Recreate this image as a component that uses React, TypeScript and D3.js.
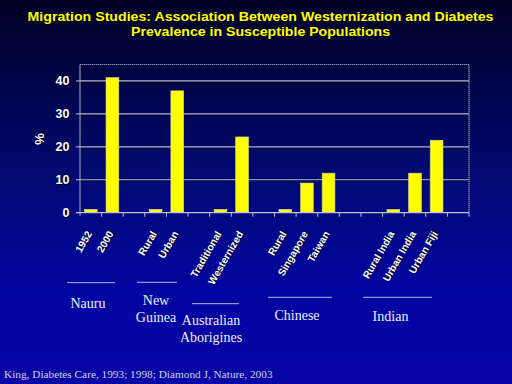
import React from "react";
import * as d3 from "d3";

const categories = ["1952", "2000", "", "Rural", "Urban", "", "Traditional", "Westernized", "", "Rural", "Singapore", "Taiwan", "", "", "Rural India", "Urban India", "Urban Fiji", ""];
const values: (number | null)[] = [1, 41, null, 1, 37, null, 1, 23, null, 1, 9, 12, null, null, 1, 12, 22, null];
const yTicks = [0, 10, 20, 30, 40];
const titleLines = ["Migration Studies: Association Between Westernization and Diabetes", "Prevalence in Susceptible Populations"];
const groupLabels = [["Nauru"], ["New", "Guinea"], ["Australian", "Aborigines"], ["Chinese"], ["Indian"]];
const footnote = "King, Diabetes Care, 1993; 1998; Diamond J, Nature, 2003";

const W = 512, H = 384;
const plot = { left: 80, right: 469, top: 64.5, bottom: 212.7 };
const titleWidths = [466, 259];

// layout for the group labels (line x1,x2,y ; text x, baseline y)
const groupLayout = [
  { x1: 67, x2: 115, ly: 282.7, tx: 88, ty: 307.5 },
  { x1: 137, x2: 177, ly: 282.3, tx: 156, ty: 305 },
  { x1: 192, x2: 239, ly: 303.7, tx: 211, ty: 325 },
  { x1: 268, x2: 332, ly: 297.3, tx: 297, ty: 320 },
  { x1: 363, x2: 432, ly: 297.3, tx: 390.5, ty: 321 },
];

export default function App() {
  const idx = categories.map((_, i) => String(i));
  const x = d3.scaleBand<string>().domain(idx).range([plot.left, plot.right]).paddingInner(0.41).paddingOuter(0.205);
  const y = d3.scaleLinear().domain([0, 45]).range([plot.bottom, plot.top]);
  const step = x.step();
  const sans = "'Liberation Sans', Arial, sans-serif";
  const serif = "'Liberation Serif', 'Times New Roman', serif";

  const shadowText = (key: string, props: any, text: string, fill: string, shadow = "#000010") => (
    <g key={key}>
      <text {...props} x={props.x + 1} y={props.y + 1} fill={shadow}>{text}</text>
      <text {...props} fill={fill}>{text}</text>
    </g>
  );

  return (
    <svg width={W} height={H} style={{ position: "absolute", left: 0, top: 0 }}>
      <defs>
        <linearGradient id="bg" x1="0" y1="0" x2="0" y2="1">
          <stop offset="0" stopColor="#000024" />
          <stop offset="0.45" stopColor="#000a70" />
          <stop offset="0.75" stopColor="#0004a0" />
          <stop offset="1" stopColor="#0606a6" />
        </linearGradient>
      </defs>
      <rect x={0} y={0} width={W} height={H} fill="url(#bg)" />

      {titleLines.map((t, i) =>
        shadowText("t" + i, { x: 260.5, y: 21 + i * 14.6, textAnchor: "middle", fontFamily: sans, fontWeight: "bold", fontSize: 13.4, textLength: titleWidths[i], lengthAdjust: "spacingAndGlyphs" }, t, "#ffff00", "#000000")
      )}

      {/* gridlines */}
      {yTicks.filter(v => v > 0).map(v => (
        <g key={"g" + v}>
          <line x1={plot.left} x2={plot.right} y1={y(v) + 1} y2={y(v) + 1} stroke="#000020" strokeWidth={1} />
          <line x1={plot.left} x2={plot.right} y1={y(v)} y2={y(v)} stroke="#b8b8c8" strokeWidth={1.2} />
        </g>
      ))}
      {/* frame */}
      <line x1={plot.left} x2={plot.right} y1={plot.top} y2={plot.top} stroke="#9090a8" strokeWidth={1} strokeDasharray="1.5 0.5" />
      <line x1={plot.right} x2={plot.right} y1={plot.top} y2={plot.bottom} stroke="#9090a8" strokeWidth={1.2} strokeDasharray="1.5 0.5" />
      <line x1={plot.left} x2={plot.left} y1={plot.top} y2={plot.bottom + 3} stroke="#b0b0c0" strokeWidth={1} />

      {/* bars */}
      {values.map((v, i) => v == null ? null : (
        <rect key={"b" + i} x={x(String(i))!} y={y(v)} width={x.bandwidth()} height={y(0) - y(v)} fill="#ffff00" stroke="#d8d8a0" strokeWidth={0.6} />
      ))}

      {/* x axis */}
      <line x1={plot.left - 4} x2={plot.right} y1={plot.bottom} y2={plot.bottom} stroke="#c0c0d0" strokeWidth={1.2} />
      {idx.map((d, i) => (
        <line key={"xt" + i} x1={plot.left + step * (i + 1)} x2={plot.left + step * (i + 1)} y1={plot.bottom} y2={plot.bottom + 4} stroke="#c0c0d0" strokeWidth={1} />
      ))}
      {yTicks.map(v => (
        <line key={"yt" + v} x1={plot.left - 4} x2={plot.left} y1={y(v)} y2={y(v)} stroke="#c0c0d0" strokeWidth={1} />
      ))}

      {/* y labels */}
      {yTicks.map(v =>
        shadowText("yl" + v, { x: 69.5, y: y(v) + 4.4, textAnchor: "end", fontFamily: sans, fontWeight: "bold", fontSize: 12.5 }, String(v), "#ffffff")
      )}
      <g transform="translate(44,139) rotate(-90)">
        <text x={1} y={1} textAnchor="middle" fontFamily={sans} fontWeight="bold" fontSize={13} fill="#000010">%</text>
        <text x={0} y={0} textAnchor="middle" fontFamily={sans} fontWeight="bold" fontSize={13} fill="#ffffff">%</text>
      </g>

      {/* x labels */}
      {categories.map((c, i) => c === "" ? null : (
        <g key={"xl" + i} transform={`translate(${x(String(i))! + x.bandwidth() / 2 + 1.5},${plot.bottom + 21}) rotate(-60)`}>
          <text x={1} y={1} textAnchor="end" fontFamily={sans} fontWeight="bold" fontSize={10.2} fill="#000010">{c}</text>
          <text x={0} y={0} textAnchor="end" fontFamily={sans} fontWeight="bold" fontSize={10.2} fill="#ffffff">{c}</text>
        </g>
      ))}

      {/* group labels */}
      {groupLabels.map((lines, gi) => {
        const g = groupLayout[gi];
        return (
          <g key={"gl" + gi}>
            <line x1={g.x1} x2={g.x2} y1={g.ly} y2={g.ly} stroke="#b8b8dc" strokeWidth={1} />
            {lines.map((t, li) => (
              <text key={li} x={g.tx} y={g.ty + li * 17} textAnchor="middle" fontFamily={serif} fontSize={14} fill="#eeeef8">{t}</text>
            ))}
          </g>
        );
      })}

      <text x={4} y={378} fontFamily={serif} fontSize={11.3} fill="#d0d0e8">{footnote}</text>
    </svg>
  );
}
